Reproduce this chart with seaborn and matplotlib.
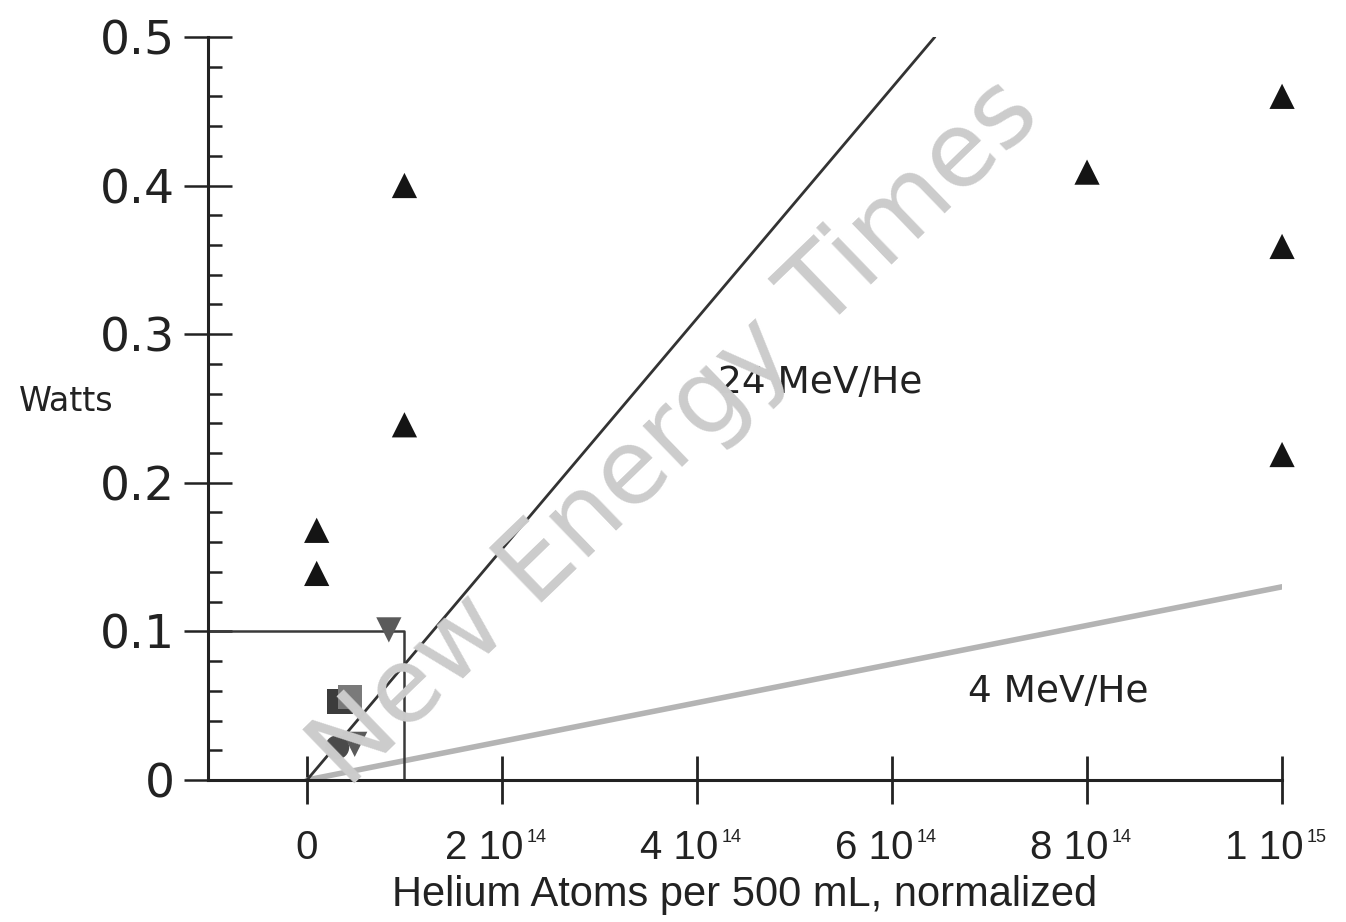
import matplotlib
matplotlib.use("Agg")
import matplotlib.pyplot as plt
from matplotlib.ticker import MultipleLocator, FixedLocator
from matplotlib.transforms import ScaledTranslation
import seaborn as sns

# data
up_x = [0.1e14, 0.1e14, 1.0e14, 1.0e14, 8.0e14, 10.0e14, 10.0e14, 10.0e14]
up_y = [0.168, 0.139, 0.400, 0.239, 0.409, 0.460, 0.359, 0.219]
down_x = [0.84e14, 0.49e14]
down_y = [0.101, 0.024]
circle_x = [0.31e14]
circle_y = [0.022]
square_dark_x = [0.34e14]
square_dark_y = [0.053]
square_gray_x = [0.44e14]
square_gray_y = [0.056]

line24_x = [0, 6.44e14]
line24_y = [0, 0.50]
line4_x = [0, 10.0e14]
line4_y = [0, 0.13]

ref_x = [-1.015e14, 1.0e14, 1.0e14]
ref_y = [0.10, 0.10, 0.0]

xticks = [0, 2e14, 4e14, 6e14, 8e14, 1e15]
xtick_labels = ["0", "2 10", "4 10", "6 10", "8 10", "1 10"]
xtick_exps = ["", "14", "14", "14", "14", "15"]
yticks = [0, 0.1, 0.2, 0.3, 0.4, 0.5]
ytick_labels = ["0", "0.1", "0.2", "0.3", "0.4", "0.5"]

sns.set_style("ticks")
plt.rcParams['font.family'] = ['DejaVu Sans']

fig = plt.figure(figsize=(13.46, 9.22), dpi=100)
ax = fig.add_axes([0.1545, 0.154, 0.798, 0.806])

# watermark
fig.text(0.502, 0.530, "New Energy Times", rotation=44, fontsize=75, color="#cccccc",
         ha="center", va="center", zorder=0, family="DejaVu Sans")

sns.lineplot(x=line4_x, y=line4_y, ax=ax, color="#b4b4b4", linewidth=4, zorder=2)
sns.lineplot(x=line24_x, y=line24_y, ax=ax, color="#333333", linewidth=2, zorder=2)
ax.plot(ref_x, ref_y, color="#3a3a3a", linewidth=1.8, zorder=2, clip_on=False)

sns.scatterplot(x=up_x, y=up_y, ax=ax, marker="^", s=330, color="#141414",
                edgecolor="none", zorder=4, clip_on=False)
sns.scatterplot(x=square_dark_x, y=square_dark_y, ax=ax, marker="s", s=330, color="#3c3c3c",
                edgecolor="none", zorder=4)
sns.scatterplot(x=square_gray_x, y=square_gray_y, ax=ax, marker="s", s=300, color="#7a7a7a",
                edgecolor="none", zorder=4)
sns.scatterplot(x=circle_x, y=circle_y, ax=ax, marker="o", s=300, color="#4a4a4a",
                edgecolor="none", zorder=4)
sns.scatterplot(x=down_x, y=down_y, ax=ax, marker="v", s=330, color="#5a5a5a",
                edgecolor="none", zorder=4)

ax.text(5.26e14, 0.267, "24 MeV/He", fontsize=27, color="#222222", ha="center", va="center")
ax.text(7.7e14, 0.059, "4 MeV/He", fontsize=27, color="#222222", ha="center", va="center")

ax.set_xlim(-1.015e14, 1.0e15)
ax.set_ylim(0, 0.5)

ax.xaxis.set_major_locator(FixedLocator(xticks))
ax.set_xticklabels(xtick_labels, family=["Liberation Sans", "DejaVu Sans"])
ax.yaxis.set_major_locator(FixedLocator(yticks))
ax.set_yticklabels(ytick_labels)
ax.yaxis.set_minor_locator(MultipleLocator(0.02))

ax.tick_params(axis="x", which="major", direction="inout", length=34, width=2,
               pad=18, labelsize=29, colors="#222222")
ax.tick_params(axis="y", which="major", direction="inout", length=35, width=1.8,
               pad=6, labelsize=34, colors="#222222")
ax.tick_params(axis="y", which="minor", direction="in", length=10, width=1.8, colors="#222222")

# shift the "n 10" labels left so label + exponent sit centred on the tick
shift = ScaledTranslation(-13 / 72, 0, fig.dpi_scale_trans)
for lab, exp in zip(ax.get_xticklabels(), xtick_exps):
    if exp:
        lab.set_transform(lab.get_transform() + shift)
for xv, exp in zip(xticks, xtick_exps):
    if exp:
        ax.annotate(exp, xy=(xv, 0), xycoords=("data", "axes fraction"),
                    xytext=(18, -35), textcoords="offset points", ha="left", va="top",
                    fontsize=13, color="#222222", family=["Liberation Sans", "DejaVu Sans"],
                    annotation_clip=False)

sns.despine(ax=ax, top=True, right=True)
for side in ["left", "bottom"]:
    ax.spines[side].set_linewidth(2.2)
    ax.spines[side].set_color("#222222")

ax.set_ylabel("Watts", rotation=0, fontsize=24, color="#222222", ha="center", va="center")
ax.yaxis.set_label_coords(-0.132, 0.51)
ax.set_xlabel("Helium Atoms per 500 mL, normalized", fontsize=30, color="#222222",
              family=["Liberation Sans", "DejaVu Sans"], labelpad=6)

fig.savefig("out.png", dpi=100, facecolor="white")
